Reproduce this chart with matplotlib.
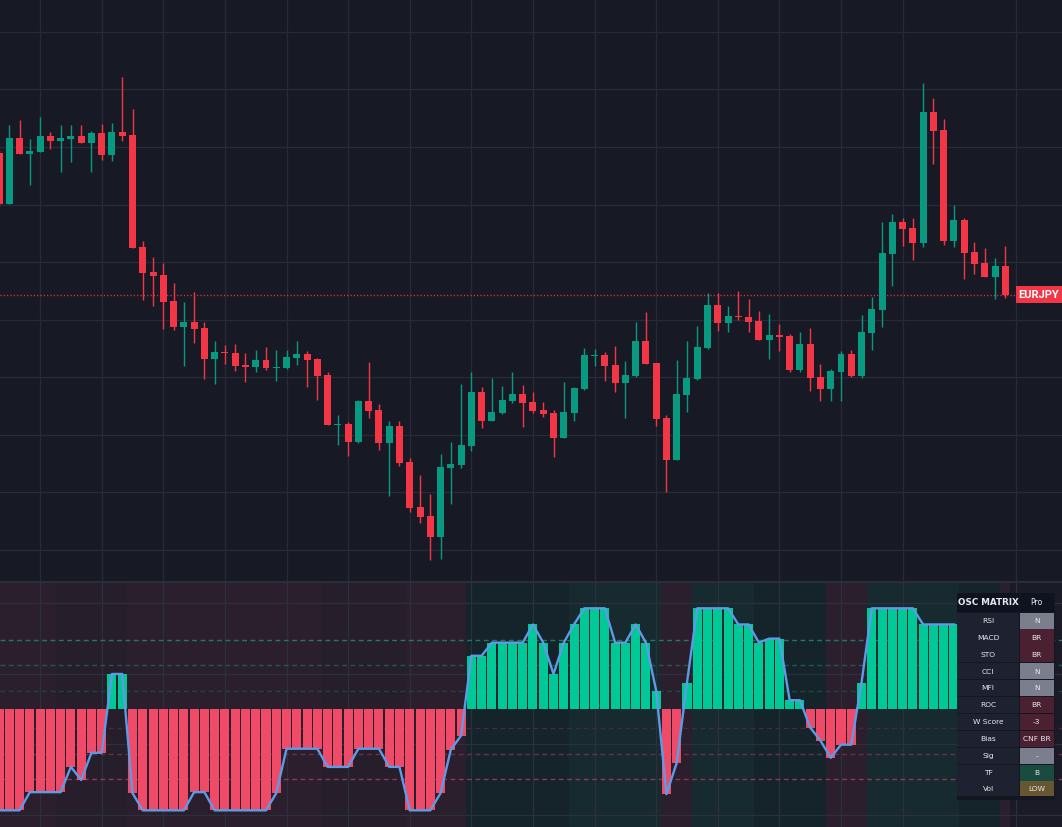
import matplotlib
matplotlib.use("Agg")
import matplotlib.pyplot as plt
from matplotlib.patches import Rectangle
import numpy as np

# ---------------- data ----------------
opens = [168.47,167.96,168.62,168.46,168.48,168.64,168.59,168.61,168.64,168.57,
         168.67,168.45,168.68,168.65,167.53,167.28,167.25,166.99,166.73,166.78,
         166.72,166.41,166.48,166.47,166.35,166.33,166.40,166.32,166.32,166.42,
         166.46,166.41,166.25,165.75,165.76,165.58,165.99,165.90,165.57,165.74,
         165.38,164.93,164.84,164.63,165.32,165.35,165.54,166.08,165.79,165.87,
         165.99,166.06,165.98,165.90,165.87,165.62,165.87,166.11,166.44,166.45,
         166.35,166.17,166.24,166.59,166.37,165.82,165.40,166.05,166.21,166.52,
         166.95,166.77,166.84,166.83,166.79,166.60,166.65,166.64,166.30,166.56,
         166.23,166.11,166.28,166.46,166.24,166.67,166.90,167.46,167.78,167.72,
         167.57,168.88,168.70,167.59,167.80,167.48,167.37,167.23,167.34]
highs = [168.50,168.75,168.80,168.61,168.83,168.68,168.75,168.75,168.75,168.69,
         168.76,168.77,169.23,168.91,167.59,167.43,167.37,167.17,166.98,167.08,
         166.78,166.59,166.55,166.56,166.47,166.50,166.53,166.50,166.50,166.59,
         166.49,166.42,166.28,165.85,165.78,166.00,166.38,165.96,165.79,165.79,
         165.42,165.25,165.06,165.46,165.58,166.16,166.28,166.13,166.22,166.14,
         166.28,166.15,166.08,165.98,165.90,166.18,166.13,166.52,166.51,166.48,
         166.54,166.39,166.78,166.88,166.37,165.85,166.40,166.59,166.74,167.07,
         167.07,166.94,167.09,167.01,166.89,166.86,166.76,166.66,166.68,166.72,
         166.36,166.31,166.49,166.50,166.85,167.03,167.78,167.86,167.82,167.82,
         169.17,169.02,168.81,167.95,167.82,167.58,167.52,167.42,167.54]
lows = [167.94,167.96,168.46,168.15,168.48,168.51,168.28,168.38,168.57,168.28,
        168.40,168.39,168.59,167.52,167.00,166.94,166.71,166.70,166.34,166.57,
        166.21,166.16,166.36,166.29,166.18,166.28,166.30,166.19,166.31,166.35,
        166.13,166.00,165.75,165.55,165.44,165.57,165.82,165.50,165.04,165.34,
        164.88,164.77,164.40,164.41,164.96,165.32,165.49,165.72,165.79,165.86,
        165.97,165.73,165.87,165.83,165.43,165.62,165.79,166.10,166.34,166.19,
        166.08,165.82,166.23,166.36,165.74,165.08,165.40,165.88,166.20,166.51,
        166.69,166.68,166.80,166.68,166.60,166.41,166.49,166.28,166.28,166.09,
        165.99,165.99,165.99,166.23,166.22,166.50,166.73,167.14,167.54,167.40,
        167.53,168.36,167.55,167.53,167.21,167.26,167.23,167.01,167.02]
closes = [167.96,168.62,168.46,168.49,168.64,168.59,168.62,168.64,168.57,168.67,
          168.45,168.68,168.64,167.52,167.27,167.24,166.98,166.73,166.78,166.71,
          166.41,166.48,166.47,166.34,166.33,166.40,166.32,166.33,166.43,166.46,
          166.40,166.24,165.75,165.76,165.58,165.99,165.89,165.57,165.74,165.37,
          164.92,164.83,164.63,165.33,165.36,165.55,166.08,165.79,165.88,166.00,
          166.06,165.97,165.89,165.86,165.62,165.88,166.12,166.45,166.45,166.34,
          166.17,166.25,166.59,166.36,165.81,165.40,166.06,166.22,166.53,166.95,
          166.77,166.84,166.83,166.78,166.60,166.65,166.63,166.30,166.56,166.22,
          166.11,166.29,166.46,166.24,166.68,166.91,167.47,167.78,167.71,167.57,
          168.88,168.69,167.59,167.80,167.47,167.36,167.23,167.34,167.05]

# oscillator matrix composite score (visible part)
osc_score = [-1.0,-1.0,-1.0,-0.82,-0.82,-0.82,-0.82,-0.57,-0.70,-0.43,
             -0.43,0.35,0.35,-0.83,-1.0,-1.0,-1.0,-1.0,-1.0,-0.82,
             -0.82,-1.0,-1.0,-1.0,-1.0,-1.0,-1.0,-0.83,-0.39,-0.39,
             -0.39,-0.39,-0.57,-0.57,-0.57,-0.39,-0.39,-0.39,-0.57,-0.57,
             -1.0,-1.0,-1.0,-0.83,-0.40,-0.26,0.53,0.53,0.66,0.66,
             0.66,0.66,0.84,0.66,0.35,0.66,0.84,1.0,1.0,1.0,
             0.66,0.66,0.84,0.66,0.185,-0.84,-0.53,0.265,1.0,1.0,
             1.0,1.0,0.84,0.84,0.66,0.70,0.70,0.09,0.09,-0.18,
             -0.31,-0.48,-0.35,-0.35,0.265,1.0,1.0,1.0,1.0,1.0,
             0.84,0.84,0.84,0.84]

# background regime per bar (-2 strong bear, -1 weak bear, 1 weak bull, 2 strong bull)
regime = [-2,-2,-2,-2,-2,-2,-1,-1,-1,-1,
          -1,-1,-1,-2,-2,-2,-2,-2,-2,-2,
          -2,-2,-2,-2,-2,-2,-2,-2,-2,-2,
          -2,-2,-1,-1,-1,-1,-1,-1,-1,-1,
          -2,-2,-2,-2,-2,-2,1,1,1,1,
          1,1,1,1,1,1,2,2,2,2,
          2,2,2,2,2,-2,-2,-2,2,2,
          2,2,2,2,1,1,1,1,1,1,
          1,-2,-2,-2,-2,2,2,2,2,2,
          2,2,2,2,1,1,1,1,-2]

level_values = [0.69, 0.44, 0.18, -0.18, -0.44, -0.69]
level_colors = ['#25766A', '#1E5852', '#1C4743', '#46293A', '#663246', '#8A3A52']

table_title = ['OSC MATRIX', 'Pro']
osc_names = ['RSI', 'MACD', 'STO', 'CCI', 'MFI', 'ROC', 'W Score', 'Bias', 'Sig', 'TF', 'Vol']
osc_states = ['N', 'BR', 'BR', 'N', 'N', 'BR', '-3', 'CNF BR', '-', 'B', 'LOW']
symbol = 'EURJPY'

# ---------------- style ----------------
BG = '#171A25'
GRID = '#272B37'
UP = '#089981'
DN = '#F23645'
HIST_UP = '#00C897'
HIST_DN = '#EF4B69'
LINE = '#5E9BE6'
REG_COL = {-2: '#2B1F2D', -1: '#261E2B', 1: '#15242B', 2: '#172A30'}
STATE_COL = {'N': '#7B7E8C', '-': '#7B7E8C', 'BR': '#4B2132', '-3': '#4B2132',
             'CNF BR': '#4B2132', 'B': '#1A4B3F', 'LOW': '#675730'}

W, H = 1062, 827
fig = plt.figure(figsize=(W / 100, H / 100), dpi=100, facecolor=BG)

n = len(opens)
idx = np.arange(n)
# x mapping: bar spacing ~10.27 px
x0 = 0.97 / 10.268
x1 = (W + 0.97) / 10.268

# ---------------- price panel ----------------
ax1 = fig.add_axes([0, 246 / H, 1, 581 / H])
ax1.set_facecolor(BG)
ax1.set_xlim(x0, x1)
ax1.set_ylim(164.19, 170.0)
hgrid = 169.68 - 0.575 * np.arange(10)
vgrid = [4, 10, 16, 22, 28, 34, 40, 46, 52, 58, 64, 70, 76, 82, 88, 99]
for g in hgrid:
    ax1.axhline(g, color=GRID, lw=0.9, zorder=0)
for g in vgrid:
    ax1.axvline(g, color=GRID, lw=0.9, zorder=0)

o = np.array(opens); c = np.array(closes); h = np.array(highs); l = np.array(lows)
cols = [UP if cc >= oo else DN for oo, cc in zip(o, c)]
ax1.vlines(idx, l, h, colors=cols, lw=1.0, zorder=2)
body_bottom = np.minimum(o, c)
body_h = np.maximum(np.abs(c - o), 0.012)
ax1.bar(idx, body_h, bottom=body_bottom, width=0.68, color=cols, linewidth=0, zorder=3)

# last price dotted line
ax1.plot([x0, (1016 + 0.97) / 10.268], [closes[-1], closes[-1]], color=DN, lw=1.0,
         linestyle=(0, (0.8, 1.6)), zorder=1)
for s in ax1.spines.values():
    s.set_visible(False)
ax1.set_xticks([]); ax1.set_yticks([])

# ---------------- oscillator panel ----------------
ax2 = fig.add_axes([0, 0, 1, 244 / H])
ax2.set_facecolor('#1A1B27')
ax2.set_xlim(x0, x1)
ax2.set_ylim(-1.165, 1.2505)
for i, r in enumerate(regime):
    ax2.axvspan(i - 0.5, i + 0.5, color=REG_COL[r], lw=0, zorder=0)
for g in [1.05, 0.347, -0.347, -1.05]:
    ax2.axhline(g, color='#2C2F3C', lw=0.9, zorder=0.5)
for g in vgrid:
    ax2.axvline(g, color='#2C2F3C', lw=0.9, zorder=0.5)
for lv, lc in zip(level_values, level_colors):
    ax2.axhline(lv, color=lc, lw=1.0, linestyle=(0, (3.5, 2.5)), zorder=1)

sc = np.array(osc_score)
sidx = np.arange(len(sc))
hcols = [HIST_UP if v >= 0 else HIST_DN for v in sc]
ax2.bar(sidx, sc, width=0.88, color=hcols, linewidth=0, zorder=2)
ax2.plot(sidx, sc, color=LINE, lw=1.7, zorder=3, solid_joinstyle='round')
for s in ax2.spines.values():
    s.set_visible(False)
ax2.set_xticks([]); ax2.set_yticks([])

# ---------------- overlay (separator, label, table) ----------------
ov = fig.add_axes([0, 0, 1, 1], facecolor='none')
ov.set_xlim(0, W); ov.set_ylim(H, 0)
ov.axis('off')
ov.add_patch(Rectangle((0, 581), W, 2, color='#2A2E39', lw=0))

# symbol label at price line
yl = 581 * (170.0 - closes[-1]) / (170.0 - 164.19)
ov.add_patch(Rectangle((1016, yl - 8.5), 46, 17, color=DN, lw=0))
ov.text(1039, yl + 0.5, symbol, color='white', fontsize=8, fontweight='bold',
        family='Roboto', ha='center', va='center')

# table
tx0, tx1, tdiv = 957, 1054, 1019.5
ov.add_patch(Rectangle((tx0 - 0.5, 592.5), tx1 - tx0 + 1, 207, color='#131722', lw=0))
ov.add_patch(Rectangle((tx0, 593.3), tdiv - tx0 - 0.6, 18.4, color='#0F1320', lw=0))
ov.add_patch(Rectangle((tdiv + 0.2, 593.3), tx1 - tdiv - 0.2, 18.4, color='#0F1320', lw=0))
ov.text((tx0 + tdiv) / 2, 602.8, table_title[0], color='#E6E8EE', fontsize=6.3,
        fontweight='bold', ha='center', va='center')
ov.text((tdiv + tx1) / 2, 602.8, table_title[1], color='#E6E8EE', fontsize=5.6,
        ha='center', va='center')
row_top = 612.6
pitch = 16.88
for k, (nm, st) in enumerate(zip(osc_names, osc_states)):
    y0 = row_top + k * pitch
    hh = pitch - 0.8 if k < len(osc_names) - 1 else 14.2
    ov.add_patch(Rectangle((tx0, y0), tdiv - tx0 - 0.6, hh, color='#1E2230', lw=0))
    ov.add_patch(Rectangle((tdiv + 0.2, y0), tx1 - tdiv - 0.2, hh, color=STATE_COL[st], lw=0))
    ov.text((tx0 + tdiv) / 2, y0 + hh / 2 + 0.3, nm, color='#E6E8EE', fontsize=5.4,
            ha='center', va='center')
    ov.text((tdiv + tx1) / 2, y0 + hh / 2 + 0.3, st, color='#E6E8EE', fontsize=5.4,
            ha='center', va='center')

fig.savefig('out.png', dpi=100, facecolor=BG)
